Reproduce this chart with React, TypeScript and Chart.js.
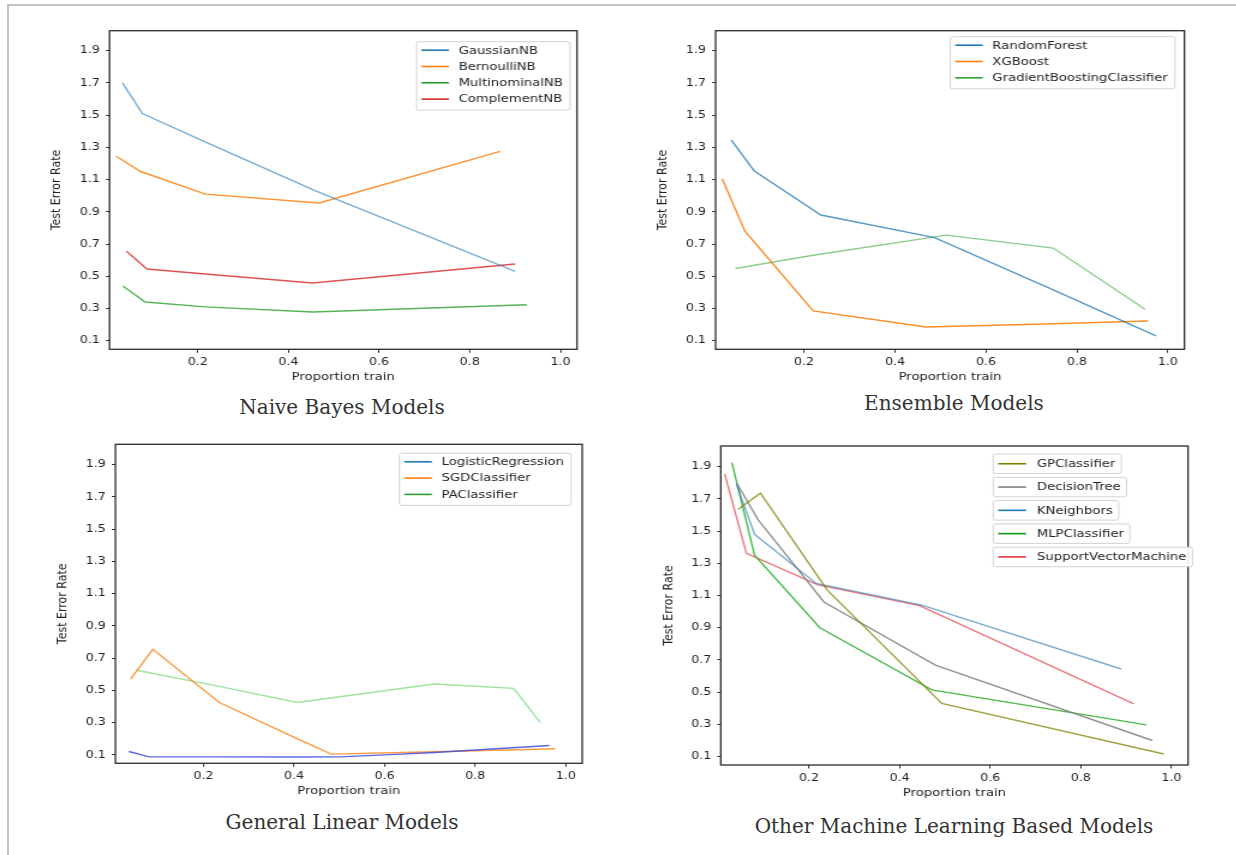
import React, { useEffect, useRef } from 'react';
import { Chart, registerables } from 'chart.js';

Chart.register(...registerables);
Chart.defaults.font.family = "'DejaVu Sans', sans-serif";

// ---------- tick values / labels ----------
const yTickValues = [0.1, 0.3, 0.5, 0.7, 0.9, 1.1, 1.3, 1.5, 1.7, 1.9];
const yTickLabels = ['0.1', '0.3', '0.5', '0.7', '0.9', '1.1', '1.3', '1.5', '1.7', '1.9'];
const xTickValues = [0.2, 0.4, 0.6, 0.8, 1.0];
const xTickLabels = ['0.2', '0.4', '0.6', '0.8', '1.0'];

// ---------- Naive Bayes ----------
const gaussianNB_x = [0.034, 0.078, 0.22, 0.46, 0.9];
const gaussianNB_y = [1.7, 1.51, 1.33, 1.03, 0.53];
const bernoulliNB_x = [0.02, 0.074, 0.217, 0.468, 0.867];
const bernoulliNB_y = [1.245, 1.15, 1.01, 0.955, 1.275];
const multinominalNB_x = [0.035, 0.084, 0.217, 0.453, 0.926];
const multinominalNB_y = [0.44, 0.34, 0.31, 0.278, 0.323];
const complementNB_x = [0.043, 0.088, 0.217, 0.453, 0.9];
const complementNB_y = [0.655, 0.545, 0.514, 0.458, 0.576];

// ---------- Ensemble ----------
const randomForest_x = [0.04, 0.09, 0.237, 0.487, 0.748, 0.974];
const randomForest_y = [1.345, 1.155, 0.88, 0.74, 0.415, 0.13];
const xgBoost_x = [0.02, 0.07, 0.22, 0.468, 0.748, 0.956];
const xgBoost_y = [1.105, 0.78, 0.285, 0.185, 0.205, 0.222];
const gradientBoosting_x = [0.049, 0.22, 0.513, 0.748, 0.95];
const gradientBoosting_y = [0.548, 0.63, 0.755, 0.675, 0.295];

// ---------- General Linear ----------
const logisticRegression_x = [0.035, 0.08, 0.24, 0.405, 0.5, 0.6, 0.71, 0.964];
const logisticRegression_y = [0.121, 0.088, 0.088, 0.087, 0.088, 0.1, 0.115, 0.158];
const sgdClassifier_x = [0.039, 0.088, 0.235, 0.403, 0.482, 0.71, 0.977];
const sgdClassifier_y = [0.57, 0.755, 0.425, 0.205, 0.105, 0.12, 0.138];
const paClassifier_x = [0.052, 0.235, 0.407, 0.71, 0.885, 0.944];
const paClassifier_y = [0.625, 0.525, 0.425, 0.54, 0.513, 0.3];

// ---------- Other ML ----------
const gpClassifier_x = [0.044, 0.093, 0.24, 0.493, 0.983];
const gpClassifier_y = [1.635, 1.735, 1.135, 0.43, 0.116];
const decisionTree_x = [0.04, 0.088, 0.233, 0.479, 0.958];
const decisionTree_y = [1.8, 1.57, 1.06, 0.668, 0.2];
const kNeighbors_x = [0.04, 0.08, 0.216, 0.449, 0.889];
const kNeighbors_y = [1.79, 1.48, 1.175, 1.04, 0.644];
const mlpClassifier_x = [0.03, 0.08, 0.224, 0.471, 0.945];
const mlpClassifier_y = [1.925, 1.35, 0.9, 0.514, 0.297];
const svm_x = [0.014, 0.062, 0.22, 0.444, 0.917];
const svm_y = [1.855, 1.362, 1.166, 1.037, 0.427];

// ---------- layout / style ----------
const S = 1.2; // horizontal stretch of the figure images
const CANVAS_W = 576;
const CANVAS_H = 375;
const TITLE_FONT = 11;
const TITLE_HALF = (TITLE_FONT * 1.2) / 2;

type Series = { label: string; x: number[]; y: number[]; color: string; legendColor: string };

const panels: any[] = [
  {
    caption: 'Naive Bayes Models',
    canvas: { l: 30, t: 15 },
    frame: { l: 109.5, t: 30.7, r: 577, b: 349.3 },
    yTitleX: 57, xTitleY: 377,
    yRange: [0.0466, 2.024],
    captionPos: { cx: 342, top: 395 },
    legend: { mode: 'box', right: 5.8, top: 11 },
    series: [
      { label: 'GaussianNB', x: gaussianNB_x, y: gaussianNB_y, color: 'rgba(31,119,180,0.6)', legendColor: '#1f77b4' },
      { label: 'BernoulliNB', x: bernoulliNB_x, y: bernoulliNB_y, color: 'rgba(255,127,14,0.85)', legendColor: '#ff7f0e' },
      { label: 'MultinominalNB', x: multinominalNB_x, y: multinominalNB_y, color: 'rgba(44,160,44,0.8)', legendColor: '#2ca02c' },
      { label: 'ComplementNB', x: complementNB_x, y: complementNB_y, color: 'rgba(214,39,40,0.8)', legendColor: '#d62728' },
    ] as Series[],
  },
  {
    caption: 'Ensemble Models',
    canvas: { l: 640, t: 15 },
    frame: { l: 715.6, t: 30.7, r: 1184.4, b: 349.3 },
    yTitleX: 663.5, xTitleY: 376.7,
    yRange: [0.0466, 2.024],
    captionPos: { cx: 954, top: 391 },
    legend: { mode: 'box', right: 7.9, top: 6 },
    series: [
      { label: 'RandomForest', x: randomForest_x, y: randomForest_y, color: 'rgba(31,119,180,0.75)', legendColor: '#1f77b4' },
      { label: 'XGBoost', x: xgBoost_x, y: xgBoost_y, color: 'rgba(255,127,14,0.9)', legendColor: '#ff7f0e' },
      { label: 'GradientBoostingClassifier', x: gradientBoosting_x, y: gradientBoosting_y, color: 'rgba(44,160,44,0.55)', legendColor: '#2ca02c' },
    ] as Series[],
  },
  {
    caption: 'General Linear Models',
    canvas: { l: 35, t: 430 },
    frame: { l: 115.4, t: 444.3, r: 582.2, b: 763.3 },
    yTitleX: 63.2, xTitleY: 790.7,
    yRange: [0.048, 2.026],
    captionPos: { cx: 342, top: 810 },
    legend: { mode: 'box', right: 9.25, top: 9 },
    series: [
      { label: 'LogisticRegression', x: logisticRegression_x, y: logisticRegression_y, color: 'rgba(60,75,225,0.85)', legendColor: '#1f77b4' },
      { label: 'SGDClassifier', x: sgdClassifier_x, y: sgdClassifier_y, color: 'rgba(255,127,14,0.8)', legendColor: '#ff7f0e' },
      { label: 'PAClassifier', x: paClassifier_x, y: paClassifier_y, color: 'rgba(60,200,60,0.5)', legendColor: '#2ca02c' },
    ] as Series[],
  },
  {
    caption: 'Other Machine Learning Based Models',
    canvas: { l: 640, t: 430 },
    frame: { l: 720.8, t: 446, r: 1188, b: 765 },
    yTitleX: 668.6, xTitleY: 792.7,
    yRange: [0.048, 2.028],
    captionPos: { cx: 954, top: 814 },
    legend: { mode: 'separate', left: 226.9, top: 8 },
    series: [
      { label: 'GPClassifier', x: gpClassifier_x, y: gpClassifier_y, color: 'rgba(128,128,0,0.75)', legendColor: '#808000' },
      { label: 'DecisionTree', x: decisionTree_x, y: decisionTree_y, color: 'rgba(127,127,127,0.85)', legendColor: '#7f7f7f' },
      { label: 'KNeighbors', x: kNeighbors_x, y: kNeighbors_y, color: 'rgba(31,119,180,0.6)', legendColor: '#1f77b4' },
      { label: 'MLPClassifier', x: mlpClassifier_x, y: mlpClassifier_y, color: 'rgba(30,170,30,0.8)', legendColor: '#119911' },
      { label: 'SupportVectorMachine', x: svm_x, y: svm_y, color: 'rgba(230,60,70,0.7)', legendColor: '#e0323c' },
    ] as Series[],
  },
];

const X_RANGE = [0.0055, 1.0365];

// ---------- plugins ----------
const framePlugin = {
  id: 'mplFrame',
  afterDatasetsDraw(chart: any) {
    const { ctx, chartArea: a } = chart;
    ctx.save();
    ctx.strokeStyle = '#2a2a2a';
    ctx.lineWidth = 1.3;
    ctx.strokeRect(a.left, a.top, a.right - a.left, a.bottom - a.top);
    ctx.restore();
  },
};

function roundRect(ctx: CanvasRenderingContext2D, x: number, y: number, w: number, h: number, r: number) {
  ctx.beginPath();
  ctx.moveTo(x + r, y);
  ctx.lineTo(x + w - r, y);
  ctx.arcTo(x + w, y, x + w, y + r, r);
  ctx.lineTo(x + w, y + h - r);
  ctx.arcTo(x + w, y + h, x + w - r, y + h, r);
  ctx.lineTo(x + r, y + h);
  ctx.arcTo(x, y + h, x, y + h - r, r);
  ctx.lineTo(x, y + r);
  ctx.arcTo(x, y, x + r, y, r);
  ctx.closePath();
}

const boxLegendPlugin = {
  id: 'boxLegend',
  afterDraw(chart: any, _args: any, o: any) {
    if (!o || !o.colors) return;
    const { ctx, chartArea: a } = chart;
    const labels: string[] = chart.data.datasets.map((d: any) => d.label);
    const colors: string[] = o.colors;
    ctx.save();
    ctx.font = `${o.fontSize}px 'DejaVu Sans'`;
    ctx.textBaseline = 'middle';
    const widths = labels.map((t) => ctx.measureText(t).width);
    const box = (x: number, y: number, w: number, h: number) => {
      roundRect(ctx, x, y, w, h, 2);
      ctx.fillStyle = 'rgba(255,255,255,0.9)';
      ctx.fill();
      ctx.strokeStyle = '#d2d2d2';
      ctx.lineWidth = 1;
      ctx.stroke();
    };
    const entry = (x: number, cy: number, i: number) => {
      ctx.strokeStyle = colors[i];
      ctx.lineWidth = 1.6;
      ctx.beginPath();
      ctx.moveTo(x + o.padL, cy);
      ctx.lineTo(x + o.padL + o.handle, cy);
      ctx.stroke();
      ctx.fillStyle = '#222';
      ctx.fillText(labels[i], x + o.padL + o.handle + o.gap, cy + 0.5);
    };
    if (o.mode === 'separate') {
      labels.forEach((_t, i) => {
        const x = a.left + o.left;
        const y = a.top + o.top + i * o.step;
        const w = o.padL + o.handle + o.gap + widths[i] + o.padR;
        box(x, y, w, o.boxH);
        entry(x, y + o.boxH / 2, i);
      });
    } else {
      const w = o.padL + o.handle + o.gap + Math.max(...widths) + o.padR;
      const h = o.firstRow + (labels.length - 1) * o.rowH + o.lastPad;
      const x = a.right - o.right - w;
      const y = a.top + o.top;
      box(x, y, w, h);
      labels.forEach((_t, i) => entry(x, y + o.firstRow + i * o.rowH, i));
    }
    ctx.restore();
  },
};

function Panel({ p }: { p: any }) {
  const ref = useRef<HTMLCanvasElement>(null);
  useEffect(() => {
    const Wc = CANVAS_W / S;
    const left = (p.frame.l - p.canvas.l) / S;
    const right = (p.frame.r - p.canvas.l) / S;
    const top = p.frame.t - p.canvas.t;
    const bottom = p.frame.b - p.canvas.t;
    const g = {
      padTop: top,
      padRight: Wc - right,
      yWidth: left,
      xHeight: CANVAS_H - bottom,
      yTitlePad: (p.yTitleX - p.canvas.l) / S - TITLE_HALF,
      xTitlePad: CANVAS_H - (p.xTitleY - p.canvas.t) - TITLE_HALF,
    };
    const legendOpts =
      p.legend.mode === 'separate'
        ? { mode: 'separate', left: p.legend.left, top: p.legend.top, step: 23.3, boxH: 19.5, padL: 4.2, handle: 23.3, gap: 9, padR: 5, fontSize: 11 }
        : { mode: 'box', right: p.legend.right, top: p.legend.top, firstRow: 8.5, rowH: 16.3, lastPad: 11, padL: 4, handle: 23, gap: 8, padR: 6, fontSize: 11 };
    const chart = new Chart(ref.current as HTMLCanvasElement, {
      type: 'line',
      data: {
        datasets: p.series.map((s: Series) => ({
          label: s.label,
          data: s.x.map((xv, i) => ({ x: xv, y: s.y[i] })),
          borderColor: s.color,
          backgroundColor: s.color,
          borderWidth: 1.4,
          pointRadius: 0,
          fill: false,
          tension: 0,
        })),
      },
      options: {
        animation: false,
        responsive: false,
        devicePixelRatio: 1,
        layout: { padding: { left: 0, top: g.padTop, right: g.padRight, bottom: 0 } },
        plugins: {
          legend: { display: false },
          tooltip: { enabled: false },
          boxLegend: { ...legendOpts, colors: p.series.map((s: Series) => s.legendColor) },
        } as any,
        scales: {
          x: {
            type: 'linear',
            min: X_RANGE[0],
            max: X_RANGE[1],
            afterBuildTicks: (sc: any) => {
              sc.ticks = xTickValues.map((v) => ({ value: v }));
            },
            afterFit: (sc: any) => {
              sc.height = g.xHeight;
            },
            ticks: {
              callback: (_v: any, i: number) => xTickLabels[i],
              autoSkip: false,
              maxRotation: 0,
              padding: 3,
              color: '#222',
              font: { size: 10.5 },
            },
            grid: { drawOnChartArea: false, drawTicks: true, tickLength: 3.5, tickColor: '#333', tickWidth: 1 },
            border: { display: false },
            title: {
              display: true,
              text: 'Proportion train',
              color: '#222',
              font: { size: TITLE_FONT, lineHeight: 1.2 },
              padding: { top: 0, bottom: g.xTitlePad },
            },
          },
          y: {
            type: 'linear',
            min: p.yRange[0],
            max: p.yRange[1],
            afterBuildTicks: (sc: any) => {
              sc.ticks = yTickValues.map((v) => ({ value: v }));
            },
            afterFit: (sc: any) => {
              sc.width = g.yWidth;
            },
            ticks: {
              callback: (_v: any, i: number) => yTickLabels[i],
              autoSkip: false,
              padding: 5,
              color: '#222',
              font: { size: 10.5 },
            },
            grid: { drawOnChartArea: false, drawTicks: true, tickLength: 3, tickColor: '#333', tickWidth: 1 },
            border: { display: false },
            title: {
              display: true,
              text: 'Test Error Rate',
              color: '#222',
              font: { size: TITLE_FONT, lineHeight: 1.2 },
              padding: { top: g.yTitlePad, bottom: 0 },
            },
          },
        },
      } as any,
      plugins: [framePlugin, boxLegendPlugin],
    });
    return () => chart.destroy();
  }, [p]);

  return (
    <>
      <div
        style={{
          position: 'absolute',
          left: p.canvas.l,
          top: p.canvas.t,
          width: CANVAS_W / S,
          height: CANVAS_H,
          transform: `scaleX(${S})`,
          transformOrigin: '0 0',
        }}
      >
        <canvas ref={ref} width={CANVAS_W / S} height={CANVAS_H} style={{ display: 'block' }} />
      </div>
      <div
        style={{
          position: 'absolute',
          left: p.captionPos.cx - 300,
          top: p.captionPos.top,
          width: 600,
          textAlign: 'center',
          fontFamily: "'DejaVu Serif', serif",
          fontSize: 20,
          lineHeight: '24px',
          color: '#333',
          whiteSpace: 'nowrap',
        }}
      >
        {p.caption}
      </div>
    </>
  );
}

export default function App() {
  return (
    <div
      style={{
        position: 'absolute',
        left: 0,
        top: 0,
        width: 1236,
        height: 855,
        overflow: 'hidden',
        background: '#fff',
      }}
    >
      <div
        style={{
          position: 'absolute',
          left: 7,
          top: 4,
          width: 1240,
          height: 860,
          borderTop: '2px solid #c4c4c4',
          borderLeft: '2px solid #c4c4c4',
        }}
      />
      {panels.map((p, i) => (
        <Panel key={i} p={p} />
      ))}
    </div>
  );
}
